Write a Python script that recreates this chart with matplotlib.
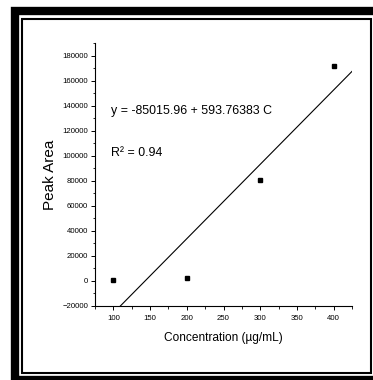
import numpy as np
import matplotlib.pyplot as plt
from matplotlib.patches import Rectangle
from matplotlib.ticker import MultipleLocator

plt.rcParams['font.family'] = ['Liberation Sans', 'DejaVu Sans']

# Calibration data
conc = [100, 200, 300, 400]
peak_area = [500, 2000, 80500, 172000]

# Linear fit reported on the chart
intercept = -85015.96
slope = 593.76383
r_squared = 0.94

x_ticks = [100, 150, 200, 250, 300, 350, 400]
y_ticks = list(range(-20000, 180001, 20000))

W, H = 373, 380
fig = plt.figure(figsize=(W / 100, H / 100), dpi=100)

# double frame around the figure
fig.patches.append(Rectangle((15 / W, 0), 400 / W, (H - 11) / H,
                             transform=fig.transFigure, fill=False,
                             edgecolor='black', linewidth=6))
fig.patches.append(Rectangle((22 / W, (H - 373) / H), (371 - 22) / W, (373 - 19) / H,
                             transform=fig.transFigure, fill=False,
                             edgecolor='black', linewidth=1.5))

ax = fig.add_axes([95 / W, 1 - 306 / H, (352 - 95) / W, (306 - 43) / H])

xs = np.array([75, 425])
ax.plot(xs, intercept + slope * xs, color='black', linewidth=0.8)
ax.plot(conc, peak_area, 's', color='black', markersize=2.6)

ax.set_xlim(75, 425)
ax.set_ylim(-20000, 190000)
ax.set_xticks(x_ticks)
ax.set_yticks(y_ticks)
ax.xaxis.set_minor_locator(MultipleLocator(25))
ax.yaxis.set_minor_locator(MultipleLocator(10000))
ax.tick_params(which='major', length=3, width=0.7, labelsize=5.6, pad=2)
ax.tick_params(axis='x', which='major', pad=3.5)
ax.tick_params(which='minor', length=1.8, width=0.6)

for side in ['top', 'right']:
    ax.spines[side].set_visible(False)
for side in ['left', 'bottom']:
    ax.spines[side].set_linewidth(0.8)

ax.set_xlabel('Concentration (µg/mL)', fontsize=8.6, labelpad=7)
ax.set_ylabel('Peak Area', fontsize=11, labelpad=4)

ax.text(97, 136000, 'y = -85015.96 + 593.76383 C', fontsize=8.9, va='center')
ax.text(97, 102500, 'R\u00b2 = %.2f' % r_squared, fontsize=8.9, va='center')

fig.savefig('out.png', dpi=100)
